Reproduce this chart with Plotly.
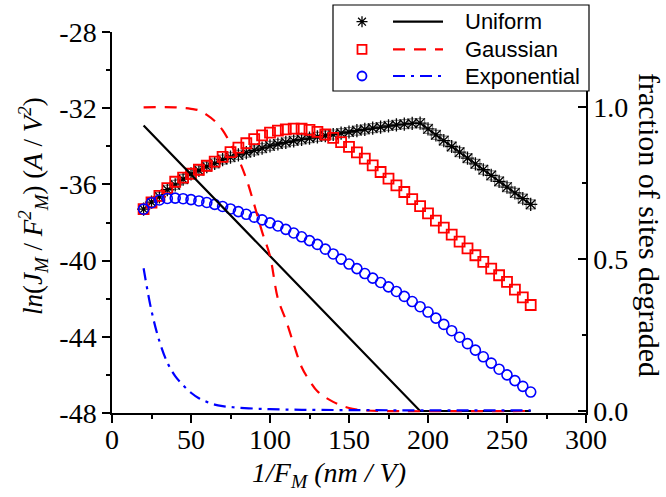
import plotly.graph_objects as go

# ---- data -------------------------------------------------------------
inv_field = [20, 25, 30, 35, 40, 45, 50, 55, 60, 65, 70, 75, 80, 85, 90, 95,
             100, 105, 110, 115, 120, 125, 130, 135, 140, 145, 150, 155, 160,
             165, 170, 175, 180, 185, 190, 195, 200, 205, 210, 215, 220, 225,
             230, 235, 240, 245, 250, 255, 260, 265]

ln_uniform = [-37.30, -36.93, -36.65, -36.28, -36.02, -35.72, -35.45, -35.27,
              -35.07, -34.90, -34.70, -34.57, -34.45, -34.33, -34.21, -34.10,
              -33.98, -33.88, -33.79, -33.71, -33.64, -33.57, -33.50, -33.44,
              -33.38, -33.31, -33.25, -33.18, -33.11, -33.05, -32.99, -32.93,
              -32.88, -32.84, -32.80, -32.78, -33.09, -33.40, -33.70, -34.01,
              -34.31, -34.62, -34.92, -35.23, -35.53, -35.84, -36.14, -36.45,
              -36.75, -37.05]

ln_gaussian = [-37.30, -36.95, -36.60, -36.20, -35.86, -35.64, -35.44, -35.23,
               -35.02, -34.80, -34.56, -34.31, -34.07, -33.84, -33.62, -33.43,
               -33.28, -33.18, -33.11, -33.07, -33.08, -33.14, -33.24, -33.38,
               -33.56, -33.78, -34.03, -34.32, -34.65, -35.00, -35.35, -35.70,
               -36.05, -36.40, -36.77, -37.14, -37.52, -37.90, -38.27, -38.64,
               -39.00, -39.36, -39.72, -40.07, -40.42, -40.77, -41.12, -41.52,
               -41.93, -42.33]

ln_exponential = [-37.30, -36.96, -36.82, -36.74, -36.72, -36.75, -36.80,
                  -36.87, -36.95, -37.05, -37.16, -37.29, -37.43, -37.57,
                  -37.72, -37.86, -38.02, -38.18, -38.36, -38.55, -38.75,
                  -38.95, -39.15, -39.40, -39.65, -39.92, -40.18, -40.42,
                  -40.68, -40.92, -41.15, -41.38, -41.62, -41.88, -42.15,
                  -42.42, -42.70, -43.02, -43.35, -43.68, -44.02, -44.36,
                  -44.70, -45.05, -45.38, -45.70, -46.00, -46.30, -46.60,
                  -46.90]

# fraction of sites degraded (right axis)
frac_uniform_x = [20, 195, 265]
frac_uniform = [0.94, 0.0, 0.0]

frac_gauss_x = [20, 40, 50, 55, 60, 65, 70, 75, 80, 85, 90, 95, 100, 105, 110,
                115, 120, 125, 130, 135, 140, 145, 150, 155, 160, 170, 265]
frac_gauss = [1.0, 1.0, 0.995, 0.99, 0.975, 0.955, 0.925, 0.88, 0.83, 0.765,
              0.68, 0.59, 0.51, 0.37, 0.30, 0.22, 0.145, 0.10, 0.065, 0.045,
              0.03, 0.018, 0.01, 0.005, 0.002, 0.0, 0.0]

frac_exp_x = [20, 25, 30, 35, 40, 45, 50, 55, 60, 65, 70, 75, 80, 90, 100,
              120, 150, 200, 265]
frac_exp = [0.47, 0.33, 0.23, 0.16, 0.115, 0.085, 0.06, 0.042, 0.03, 0.021,
            0.016, 0.013, 0.011, 0.008, 0.006, 0.004, 0.003, 0.002, 0.002]

legend_names = ["Uniform", "Gaussian", "Exponential"]

x_ticks = [0, 50, 100, 150, 200, 250, 300]
ln_ticks = [-48, -44, -40, -36, -32, -28]
frac_ticks = [0.0, 0.5, 1.0]

# ---- geometry helpers (plot area in pixels) ---------------------------
W, H = 666, 497
PX0, PX1, PY0, PY1 = 112, 586, 32, 413


def px(x):
    return (x - PX0) / (PX1 - PX0)


def py(y):
    return (PY1 - y) / (PY1 - PY0)


SERIF = "Liberation Serif, Times New Roman, serif"
SANS = "Liberation Sans, Arial, sans-serif"

fig = go.Figure()

# ---- ln(J/F^2) marker series (left axis) ------------------------------
fig.add_trace(go.Scatter(
    x=inv_field, y=ln_uniform, mode="markers", showlegend=False,
    marker=dict(symbol="square-open", size=9, color="#8a8a8a",
                line=dict(width=1.2, color="#8a8a8a")),
    hoverinfo="skip"))
fig.add_trace(go.Scatter(
    x=inv_field, y=ln_uniform, mode="lines+markers", name=legend_names[0],
    showlegend=False, line=dict(color="black", width=1.3),
    marker=dict(symbol="asterisk-open", size=11, color="black",
                line=dict(width=1.3, color="black"))))
fig.add_trace(go.Scatter(
    x=inv_field, y=ln_gaussian, mode="markers", name=legend_names[1],
    showlegend=False,
    marker=dict(symbol="square-open", size=10, color="#ff0000",
                line=dict(width=1.8, color="#ff0000"))))
fig.add_trace(go.Scatter(
    x=inv_field, y=ln_exponential, mode="markers", name=legend_names[2],
    showlegend=False,
    marker=dict(symbol="circle-open", size=10, color="#0000ff",
                line=dict(width=1.6, color="#0000ff"))))

# ---- fraction degraded curves (right axis) ----------------------------
fig.add_trace(go.Scatter(
    x=frac_uniform_x, y=frac_uniform, yaxis="y2", mode="lines",
    showlegend=False, line=dict(color="black", width=2.2)))
fig.add_trace(go.Scatter(
    x=frac_gauss_x, y=frac_gauss, yaxis="y2", mode="lines", showlegend=False,
    line=dict(color="#ff0000", width=2.2, dash="12px,9px", shape="spline")))
fig.add_trace(go.Scatter(
    x=frac_exp_x, y=frac_exp, yaxis="y2", mode="lines", showlegend=False,
    line=dict(color="#0000ff", width=2.2, dash="12px,6px,3px,6px",
              shape="spline")))

# ---- axes -------------------------------------------------------------
axis_common = dict(showgrid=False, zeroline=False, showline=True,
                   linecolor="black", linewidth=1.5, tickcolor="black",
                   tickwidth=1.5, tickfont=dict(family=SERIF, size=28,
                                                color="black"))

fig.update_layout(
    width=W, height=H, autosize=False,
    margin=dict(l=PX0, r=W - PX1, t=PY0, b=H - PY1, pad=0),
    paper_bgcolor="white", plot_bgcolor="white",
    showlegend=False,
    xaxis=dict(range=[0, 300], tickvals=x_ticks,
               ticktext=[str(v) for v in x_ticks], ticks="outside", ticklen=8,
               ticklabelstandoff=-7,
               minor=dict(dtick=25, ticks="outside", ticklen=4,
                          tickcolor="black", tickwidth=1.5),
               **axis_common),
    xaxis2=dict(range=[0, 300], overlaying="x", side="top", tick0=0,
                dtick=25, ticks="outside", ticklen=3, showticklabels=False,
                showgrid=False, zeroline=False, showline=True,
                linecolor="black", linewidth=1.5, tickcolor="black",
                tickwidth=1.2),
    yaxis=dict(range=[-48, -28], tickvals=ln_ticks,
               ticktext=[f"-{abs(v)}" for v in ln_ticks], ticks="outside",
               ticklen=8,
               minor=dict(dtick=2, ticks="outside", ticklen=4,
                          tickcolor="black", tickwidth=1.5),
               **axis_common),
    yaxis2=dict(range=[-0.0066, 1.248], overlaying="y", side="right",
                tickvals=frac_ticks, ticktext=[f"{v:.1f}" for v in frac_ticks],
                ticks="inside", ticklen=8,
                minor=dict(tickvals=[0.25, 0.75], ticks="inside", ticklen=4,
                           tickcolor="black", tickwidth=1.5),
                **axis_common),
)

# ---- axis titles ------------------------------------------------------
fig.add_annotation(
    xref="paper", yref="paper", x=px(33), y=py(206), textangle=-90,
    text="<i>ln</i>(<i>J<sub>M</sub></i> / <i>F<sup>2</sup><sub>M</sub></i>)"
         " (<i>A</i> / <i>V<sup>2</sup></i>)",
    showarrow=False, xanchor="center", yanchor="middle",
    font=dict(family=SERIF, size=27, color="black"))
fig.add_annotation(
    xref="paper", yref="paper", x=px(329), y=py(474),
    text="<i>1/F<sub>M</sub> (nm / V)</i>",
    showarrow=False, xanchor="center", yanchor="middle",
    font=dict(family=SERIF, size=28, color="black"))
fig.add_annotation(
    xref="paper", yref="paper", x=px(650), y=py(225), textangle=90,
    text="fraction of sites degraded",
    showarrow=False, xanchor="center", yanchor="middle",
    font=dict(family=SERIF, size=30, color="black"))

# ---- legend box -------------------------------------------------------
shapes = []
shapes.append(dict(type="rect", xref="paper", yref="paper", layer="above",
                   x0=px(333), x1=px(589), y0=py(91), y1=py(5),
                   fillcolor="white", line=dict(color="black", width=1.2)))

rows = [21.7, 49.3, 76.0]
mx = 362
lx0, lx1 = 393, 443

# asterisk glyph
r = 5.5
d = r * 0.7071
cy = rows[0]
segs = [((mx - r, cy), (mx + r, cy)), ((mx, cy - r), (mx, cy + r)),
        ((mx - d, cy - d), (mx + d, cy + d)), ((mx - d, cy + d), (mx + d, cy - d))]
path = " ".join(f"M {px(a[0]):.5f},{py(a[1]):.5f} L {px(b[0]):.5f},{py(b[1]):.5f}"
                for a, b in segs)
shapes.append(dict(type="path", xref="paper", yref="paper", layer="above",
                   path=path, line=dict(color="black", width=1.3)))
# square glyph
s = 4.5
shapes.append(dict(type="rect", xref="paper", yref="paper", layer="above",
                   x0=px(mx - s), x1=px(mx + s), y0=py(rows[1] + s),
                   y1=py(rows[1] - s), line=dict(color="#ff0000", width=1.8)))
# circle glyph
shapes.append(dict(type="circle", xref="paper", yref="paper", layer="above",
                   x0=px(mx - s), x1=px(mx + s), y0=py(rows[2] + s),
                   y1=py(rows[2] - s), line=dict(color="#0000ff", width=1.8)))
# line samples
styles = [("black", "solid"), ("#ff0000", "12px,9px"),
          ("#0000ff", "12px,6px,3px,6px")]
for ry, (col, dash) in zip(rows, styles):
    shapes.append(dict(type="line", xref="paper", yref="paper", layer="above",
                       x0=px(lx0), x1=px(lx1), y0=py(ry), y1=py(ry),
                       line=dict(color=col, width=2.2, dash=dash)))
fig.update_layout(shapes=shapes)

for ry, name in zip(rows, legend_names):
    fig.add_annotation(xref="paper", yref="paper", x=px(463), y=py(ry),
                       text=name, showarrow=False, xanchor="left",
                       yanchor="middle",
                       font=dict(family=SANS, size=22, color="black"))

fig.write_html("out.html")
